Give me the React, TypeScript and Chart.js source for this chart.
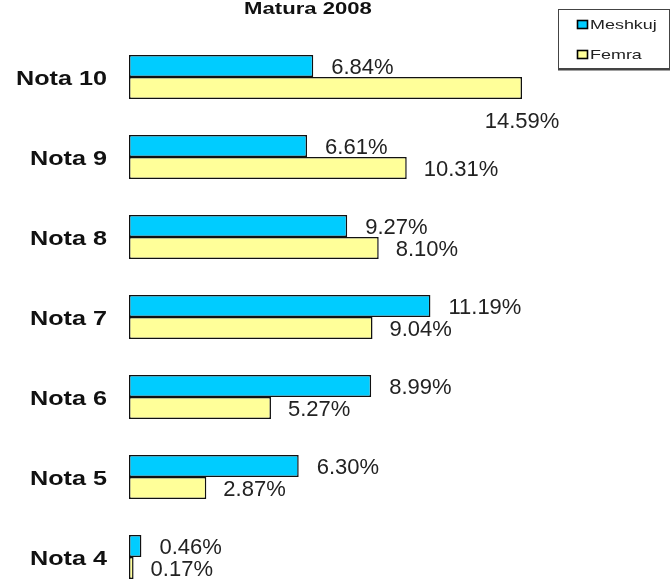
import React, { useEffect, useRef } from "react";
import { Chart, registerables } from "chart.js";

Chart.register(...registerables);

const title = "Matura 2008";
const categories = ["Nota 10", "Nota 9", "Nota 8", "Nota 7", "Nota 6", "Nota 5", "Nota 4"];
const seriesNames = ["Meshkuj", "Femra"];
// bar lengths as measured in the picture
const meshkuj = [6.84, 6.61, 8.1, 11.19, 8.99, 6.3, 0.46];
const femra = [14.59, 10.31, 9.27, 9.04, 5.27, 2.87, 0.17];
// data labels exactly as printed in the picture
const meshkujLabels = ["6.84%", "6.61%", "9.27%", "11.19%", "8.99%", "6.30%", "0.46%"];
const femraLabels = ["14.59%", "10.31%", "8.10%", "9.04%", "5.27%", "2.87%", "0.17%"];
const colors = ["#00CCFF", "#FFFF99"];

const labelSets = [meshkujLabels, femraLabels];

const textPlugin = {
  id: "textPlugin",
  afterDatasetsDraw(chart: any) {
    const ctx = chart.ctx as CanvasRenderingContext2D;
    const area = chart.chartArea;
    ctx.save();
    // data labels
    ctx.font = '22px "Liberation Sans", Arial, sans-serif';
    ctx.fillStyle = "#222";
    ctx.textAlign = "left";
    ctx.textBaseline = "alphabetic";
    chart.data.datasets.forEach((ds: any, di: number) => {
      const meta = chart.getDatasetMeta(di);
      meta.data.forEach((bar: any, i: number) => {
        const p = bar.getProps(["x", "y", "height"], true);
        const text = labelSets[di][i];
        const w = ctx.measureText(text).width;
        let tx = p.x + (di === 0 ? 18 : 17);
        let ty = p.y + 8;
        if (tx + w > area.right) {
          tx = p.x - w / 2;
          ty = p.y + p.height / 2 + 29;
        }
        ctx.fillText(text, tx, ty);
      });
    });
    // category labels
    const yScale = chart.scales.y;
    ctx.font = 'bold 21px "Liberation Sans", Arial, sans-serif';
    ctx.fillStyle = "#111";
    ctx.textAlign = "right";
    categories.forEach((c, i) => {
      const cy = yScale.getPixelForValue(i);
      ctx.save();
      ctx.translate(107, cy + 8);
      ctx.scale(1.2, 1);
      ctx.fillText(c, 0, 0);
      ctx.restore();
    });
    // title
    ctx.font = 'bold 17px "Liberation Sans", Arial, sans-serif';
    ctx.textAlign = "center";
    ctx.save();
    ctx.translate(308, 14);
    ctx.scale(1.3, 1);
    ctx.fillText(title, 0, 0);
    ctx.restore();
    // legend
    ctx.strokeStyle = "#444";
    ctx.lineWidth = 1;
    ctx.strokeRect(558.5, 9.5, 111, 59);
    ctx.beginPath();
    ctx.moveTo(558, 69.5);
    ctx.lineTo(670, 69.5);
    ctx.lineWidth = 2;
    ctx.stroke();
    ctx.font = '13px "Liberation Sans", Arial, sans-serif';
    ctx.textAlign = "left";
    seriesNames.forEach((name, i) => {
      const my = 20 + i * 30;
      ctx.fillStyle = colors[i];
      ctx.fillRect(577, my, 11, 8.5);
      ctx.strokeStyle = "#000";
      ctx.lineWidth = 1.6;
      ctx.strokeRect(577.5, my + 0.5, 10, 8);
      ctx.fillStyle = "#222";
      ctx.save();
      ctx.translate(590, my + 8.5);
      ctx.scale(1.38, 1);
      ctx.fillText(name, 0, 0);
      ctx.restore();
    });
    ctx.restore();
  },
};

export default function App() {
  const ref = useRef<HTMLCanvasElement | null>(null);
  useEffect(() => {
    if (!ref.current) return;
    const chart = new Chart(ref.current, {
      type: "bar",
      data: {
        labels: categories,
        datasets: [
          {
            label: seriesNames[0],
            data: meshkuj,
            backgroundColor: colors[0],
            borderColor: "#111",
            borderWidth: 1.5,
            borderSkipped: false,
          },
          {
            label: seriesNames[1],
            data: femra,
            backgroundColor: colors[1],
            borderColor: "#111",
            borderWidth: 1.5,
            borderSkipped: false,
          },
        ],
      },
      options: {
        indexAxis: "y",
        responsive: false,
        animation: false,
        layout: { padding: { left: 129, top: 37, right: 110, bottom: 23 } },
        datasets: { bar: { barPercentage: 1, categoryPercentage: 0.55 } },
        scales: {
          x: { display: false, min: 0, max: 16 },
          y: { display: false },
        },
        plugins: {
          legend: { display: false },
          title: { display: false },
          tooltip: { enabled: false },
        },
      },
      plugins: [textPlugin],
    } as any);
    return () => chart.destroy();
  }, []);
  return (
    <div style={{ position: "absolute", left: 0, top: 0, width: 670, height: 620, background: "#fff" }}>
      <canvas ref={ref} width={670} height={620} style={{ display: "block" }} />
    </div>
  );
}
